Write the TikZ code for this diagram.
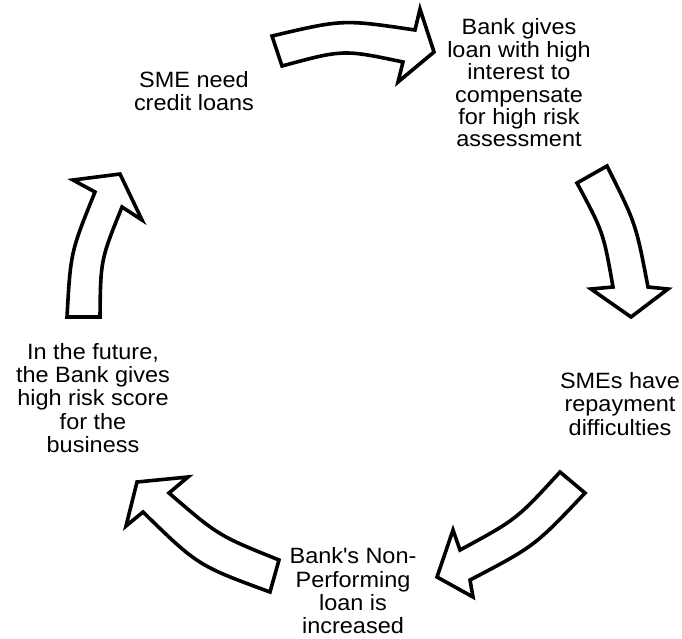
\documentclass[tikz,border=0pt]{standalone}
\usepackage{fontspec}
\setmainfont{Liberation Sans}[FakeStretch=1.06]
\begin{document}
\begin{tikzpicture}[x=0.75pt,y=-0.75pt,
  cyclearrow/.style={draw=black,line width=2.7pt,fill=white,line join=miter,miter limit=6},
  steptext/.style={align=center,inner sep=0pt,font=\fontsize{16.6}{17.5}\selectfont}]
\useasboundingbox (0,0) rectangle (682,639);

% step labels
\node[steptext] (need)   at (194,91)  {SME need\\credit loans};
\node[steptext,font=\fontsize{16.6}{16.8}\selectfont] (loan) at (519,83)
  {Bank gives\\loan with high\\interest to\\compensate\\for high risk\\assessment};
\node[steptext] (repay)  at (620,404) {SMEs have\\repayment\\difficulties};
\node[steptext] (npl)    at (353,591) {Bank\textquotesingle s Non-\\Performing\\loan is\\increased};
\node[steptext] (score)  at (93,398)  {In the future,\\the Bank gives\\high risk score\\for the\\business};

% curved block arrow: need -> loan
\draw[cyclearrow] (272,36) .. controls (342.8,19.3) .. (415,30) -- (420,9) -- (434,52)
  -- (398,82) -- (403,62) .. controls (343.2,49.4) .. (282,66) -- cycle;

% curved block arrow: loan -> repay
\draw[cyclearrow] (607,166) .. controls (635.9,223.7) .. (648,287) -- (668,289) -- (631,317)
  -- (591,289) -- (613,287) .. controls (603.3,232.1) .. (577,183) -- cycle;

% curved block arrow: repay -> npl
\draw[cyclearrow] (585,493) .. controls (534.7,546.1) .. (470,580) -- (473,597) -- (437,577)
  -- (453,530) -- (460,550) .. controls (516.5,519.4) .. (560,472) -- cycle;

% curved block arrow: npl -> score
\draw[cyclearrow] (279,560) .. controls (218.4,535.6) .. (169,493) -- (188,477) -- (137,482)
  -- (126,526) -- (143,512) .. controls (198,565.6) .. (270,592) -- cycle;

% curved block arrow: score -> need
\draw[cyclearrow] (67,317) .. controls (70.6,252.2) .. (95,192) -- (73,180) -- (120,174)
  -- (142,220) -- (122,207) .. controls (100.6,259.9) .. (100,317) -- cycle;
\end{tikzpicture}
\end{document}
